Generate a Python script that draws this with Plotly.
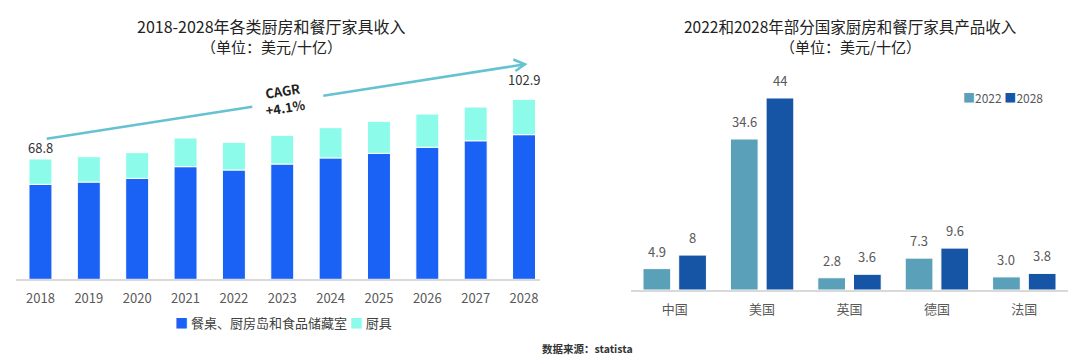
import plotly.graph_objects as go

# ---------------- data ----------------
years = ["2018", "2019", "2020", "2021", "2022", "2023", "2024", "2025", "2026", "2027", "2028"]
furniture = [54.3, 55.6, 57.7, 64.4, 62.5, 65.9, 69.4, 72.0, 75.5, 79.2, 82.7]   # 餐桌、厨房岛和食品储藏室
cookware = [14.5, 14.5, 14.7, 16.4, 15.8, 16.4, 17.3, 18.3, 19.0, 19.3, 20.2]    # 厨具
total_labels = {"2018": "68.8", "2028": "102.9"}

countries = ["中国", "美国", "英国", "德国", "法国"]
rev_2022 = [4.9, 34.6, 2.8, 7.3, 3.0]
rev_2028 = [8, 44, 3.6, 9.6, 3.8]

left_title = "2018-2028年各类厨房和餐厅家具收入"
right_title = "2022和2028年部分国家厨房和餐厅家具产品收入"
unit_text = "（单位：美元/十亿）"
cagr_text = "<b>CAGR<br>+4.1%</b>"
source_text = "<b>数据来源：statista</b>"

# ---------------- style ----------------
OX, OY = 8, 8            # page body margin
W, H = 1072, 355
FONT = "Noto Sans CJK SC"
C_BLUE = "#1a62f5"
C_MINT = "#8cfbea"
C_2022 = "#5aa0b9"
C_2028 = "#1655a5"
C_ARROW = "#66c2d1"
C_AXIS = "#d9d9d9"
C_TICK = "#595959"


def px(x):
    return (x - OX) / W


def py(y):
    return 1 - (y - OY) / H


fig = go.Figure()

# left stacked bars (explicit base for stacking)
LW = 0.475
fig.add_trace(go.Bar(x=years, y=furniture, name="餐桌、厨房岛和食品储藏室",
                     marker=dict(color=C_BLUE, line=dict(color="white", width=1)),
                     width=LW, offset=-LW / 2, xaxis="x", yaxis="y", showlegend=False))
fig.add_trace(go.Bar(x=years, y=cookware, base=furniture, name="厨具",
                     marker=dict(color=C_MINT, line=dict(color="white", width=1)),
                     width=LW, offset=-LW / 2, xaxis="x", yaxis="y", showlegend=False))

# right grouped bars
RW = 0.317
OFF_A = -0.3627
OFF_B = 0.0458
fig.add_trace(go.Bar(x=countries, y=rev_2022, name="2022",
                     marker=dict(color=C_2022, line=dict(color="white", width=1)),
                     width=RW, offset=OFF_A, xaxis="x2", yaxis="y2", showlegend=False))
fig.add_trace(go.Bar(x=countries, y=rev_2028, name="2028",
                     marker=dict(color=C_2028, line=dict(color="white", width=1)),
                     width=RW, offset=OFF_B, xaxis="x2", yaxis="y2", showlegend=False))

annotations = []

# left total labels
totals = [a + b for a, b in zip(furniture, cookware)]
shifts = {"2018": 0, "2028": 8}
for yr, lab in total_labels.items():
    i = years.index(yr)
    annotations.append(dict(x=i, y=totals[i], xref="x", yref="y", text=lab, showarrow=False,
                            yanchor="bottom", yshift=shifts[yr],
                            font=dict(family=FONT, size=13, color="#333333")))

# right value labels
for i, c in enumerate(countries):
    annotations.append(dict(x=i + OFF_A + RW / 2, y=rev_2022[i], xref="x2", yref="y2",
                            text=f"{rev_2022[i]:.1f}", showarrow=False, yanchor="bottom", yshift=6,
                            font=dict(family=FONT, size=13, color=C_TICK)))
    annotations.append(dict(x=i + OFF_B + RW / 2, y=rev_2028[i], xref="x2", yref="y2",
                            text=str(rev_2028[i]), showarrow=False, yanchor="bottom", yshift=6,
                            font=dict(family=FONT, size=13, color=C_TICK)))

# titles (two lines each, separate annotations)
for cx, t, fs in [(271, left_title, 16), (850, right_title, 15.5)]:
    annotations.append(dict(x=px(cx), y=py(25.5), xref="paper", yref="paper", text=t,
                            showarrow=False, xanchor="center", yanchor="middle", borderpad=0,
                            font=dict(family=FONT, size=fs, color="#222222")))
    annotations.append(dict(x=px(cx), y=py(47), xref="paper", yref="paper", text=unit_text,
                            showarrow=False, xanchor="center", yanchor="middle", borderpad=0,
                            font=dict(family=FONT, size=15, color="#222222")))

# CAGR label
annotations.append(dict(x=px(284), y=py(99), xref="paper", yref="paper", text=cagr_text,
                        showarrow=False, textangle=-9, xanchor="center", yanchor="middle",
                        font=dict(family=FONT, size=13, color="#222222")))

# left legend
annotations.append(dict(x=px(283), y=py(322), xref="paper", yref="paper",
                        text=(f"<span style='color:{C_BLUE}'>■</span> 餐桌、厨房岛和食品储藏室 "
                              f"<span style='color:{C_MINT}'>■</span> 厨具"),
                        showarrow=False, xanchor="center", yanchor="middle",
                        font=dict(family=FONT, size=13, color="#404040")))
# right legend
annotations.append(dict(x=px(1003), y=py(97), xref="paper", yref="paper",
                        text=(f"<span style='color:{C_2022}'>■</span>2022 "
                              f"<span style='color:{C_2028}'>■</span>2028"),
                        showarrow=False, xanchor="center", yanchor="middle",
                        font=dict(family=FONT, size=12, color=C_TICK)))

# source
annotations.append(dict(x=px(587), y=py(348), xref="paper", yref="paper", text=source_text,
                        showarrow=False, xanchor="center", yanchor="middle",
                        font=dict(family=FONT, size=10.5, color="#333333")))

# CAGR arrow (decoration)
shapes = [
    dict(type="line", xref="paper", yref="paper", x0=px(46.7), y0=py(138.7), x1=px(252.3), y1=py(106.7),
         line=dict(color=C_ARROW, width=2.5)),
    dict(type="line", xref="paper", yref="paper", x0=px(323.3), y0=py(95.7), x1=px(525), y1=py(64.3),
         line=dict(color=C_ARROW, width=2.5)),
    dict(type="path", xref="paper", yref="paper",
         path=f"M{px(513.3)},{py(59.5)} L{px(525)},{py(64.3)} L{px(515.5)},{py(71)}",
         line=dict(color=C_ARROW, width=2.5)),
]

axis_common = dict(showgrid=False, zeroline=False, ticks="", showline=True,
                   linecolor=C_AXIS, linewidth=1.5,
                   tickfont=dict(family=FONT, size=13, color=C_TICK), fixedrange=True)

fig.update_layout(
    width=W, height=H,
    margin=dict(l=0, r=0, t=0, b=0),
    paper_bgcolor="white", plot_bgcolor="white",
    barmode="overlay",
    showlegend=False,
    font=dict(family=FONT),
    xaxis=dict(domain=[px(15.8), px(540)], type="category", range=[-0.51, 10.33],
               anchor="y", ticklabelstandoff=6, **axis_common),
    yaxis=dict(domain=[py(279.3), py(60)], range=[0, (279.3 - 60) / 1.749], visible=False,
               anchor="x", fixedrange=True),
    xaxis2=dict(domain=[px(631), px(1068)], type="category", range=[-0.5, 4.5],
                anchor="y2", ticklabelstandoff=7, **axis_common),
    yaxis2=dict(domain=[py(290), py(60)], range=[0, 230 / 4.364], visible=False,
                anchor="x2", fixedrange=True),
    annotations=annotations,
    shapes=shapes,
)

fig.write_html("out.html")
